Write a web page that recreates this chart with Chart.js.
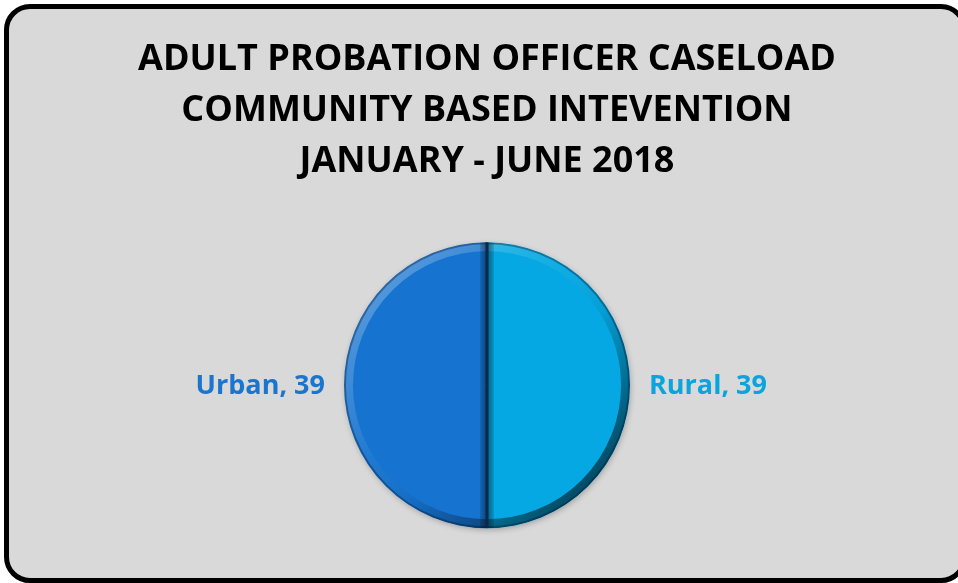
<!DOCTYPE html>
<html>
<head>
<meta charset="utf-8">
<script src="https://cdn.jsdelivr.net/npm/chart.js@4"></script>
<style>
  html, body { margin: 0; padding: 0; background: #ffffff; overflow: hidden; }
  #frame {
    position: absolute; left: 4px; top: 4px; width: 963px; height: 579px;
    box-sizing: border-box; border: 5px solid #000; border-radius: 26px;
    background: #d9d9d9;
  }
  #wrap { position: absolute; left: 0; top: 0; width: 958px; height: 583px; }
</style>
</head>
<body>
<div id="frame"></div>
<div id="wrap"><canvas id="chart" width="958" height="583"></canvas></div>
<script>
// chart data
const titleLines = ['ADULT PROBATION OFFICER CASELOAD', 'COMMUNITY BASED INTEVENTION', 'JANUARY - JUNE 2018'];
const categories = ['Rural', 'Urban'];
const caseloads = [39, 39];
const sliceColors = ['#05a8e2', '#1673cf'];
const labelColors = ['#0aa5dc', '#1a75cf'];

const FONT = '"Open Sans", "DejaVu Sans", sans-serif';

// soft shadow under the pie
const shadowPlugin = {
  id: 'pieShadow',
  beforeDatasetsDraw(chart) {
    const arc = chart.getDatasetMeta(0).data[0];
    if (!arc) return;
    const ctx = chart.ctx;
    ctx.save();
    ctx.shadowColor = 'rgba(0,0,0,0.3)';
    ctx.shadowBlur = 6;
    ctx.shadowOffsetX = 1;
    ctx.shadowOffsetY = 2;
    ctx.fillStyle = '#1673cf';
    ctx.beginPath();
    ctx.arc(arc.x, arc.y, arc.outerRadius - 1, 0, Math.PI * 2);
    ctx.fill();
    ctx.restore();
  }
};

// bevel ring + dark divider, and the outside labels
const bevelPlugin = {
  id: 'bevel',
  afterDatasetsDraw(chart) {
    const arcs = chart.getDatasetMeta(0).data;
    if (!arcs.length) return;
    const ctx = chart.ctx;
    const cx = arcs[0].x, cy = arcs[0].y, r = arcs[0].outerRadius;

    ctx.save();
    ctx.beginPath();
    ctx.arc(cx, cy, r, 0, Math.PI * 2);
    ctx.clip();

    // ring bevel
    const g = ctx.createLinearGradient(cx - r * 0.7, cy - r * 0.7, cx + r * 0.7, cy + r * 0.7);
    g.addColorStop(0, 'rgba(255,255,255,0.25)');
    g.addColorStop(0.4, 'rgba(255,255,255,0.04)');
    g.addColorStop(0.6, 'rgba(0,0,0,0.06)');
    g.addColorStop(1, 'rgba(0,0,0,0.55)');
    ctx.strokeStyle = g;
    ctx.lineWidth = 9;
    ctx.beginPath();
    ctx.arc(cx, cy, r - 4.5, 0, Math.PI * 2);
    ctx.stroke();

    // thin dark outline
    ctx.strokeStyle = 'rgba(0,30,60,0.4)';
    ctx.lineWidth = 2;
    ctx.beginPath();
    ctx.arc(cx, cy, r - 1, 0, Math.PI * 2);
    ctx.stroke();

    // divider between slices
    arcs.forEach(a => {
      const ang = a.startAngle;
      const dx = Math.cos(ang), dy = Math.sin(ang);
      const sh = ctx.createLinearGradient(cx - 9, 0, cx + 9, 0);
      sh.addColorStop(0, 'rgba(0,0,0,0)');
      sh.addColorStop(0.5, 'rgba(0,20,50,0.5)');
      sh.addColorStop(1, 'rgba(0,0,0,0)');
      ctx.strokeStyle = sh;
      ctx.lineWidth = 14;
      ctx.beginPath();
      ctx.moveTo(cx, cy);
      ctx.lineTo(cx + dx * r, cy + dy * r);
      ctx.stroke();
      ctx.strokeStyle = '#0b2a48';
      ctx.lineWidth = 3;
      ctx.beginPath();
      ctx.moveTo(cx, cy);
      ctx.lineTo(cx + dx * r, cy + dy * r);
      ctx.stroke();
    });
    ctx.restore();

    // outside labels
    ctx.save();
    ctx.font = 'bold 27px ' + FONT;
    ctx.textBaseline = 'middle';
    arcs.forEach((a, i) => {
      const mid = (a.startAngle + a.endAngle) / 2;
      const right = Math.cos(mid) >= 0;
      const x = right ? cx + r + 19 : cx - r - 19;
      ctx.textAlign = right ? 'left' : 'right';
      ctx.fillStyle = labelColors[i];
      ctx.fillText(categories[i] + ', ' + caseloads[i], x, cy + 1);
    });
    ctx.restore();
  }
};

new Chart(document.getElementById('chart'), {
  type: 'pie',
  data: {
    labels: categories,
    datasets: [{
      data: caseloads,
      backgroundColor: sliceColors,
      borderWidth: 0
    }]
  },
  options: {
    responsive: false,
    animation: false,
    radius: 143,
    layout: { padding: { top: 34, bottom: 16, left: 16, right: 0 } },
    plugins: {
      legend: { display: false },
      tooltip: { enabled: false },
      title: {
        display: true,
        text: titleLines,
        color: '#000',
        font: { family: FONT, size: 36, weight: 'bold', lineHeight: 1.42 },
        padding: { top: 0, bottom: 16 }
      }
    }
  },
  plugins: [shadowPlugin, bevelPlugin]
});
</script>
</body>
</html>
